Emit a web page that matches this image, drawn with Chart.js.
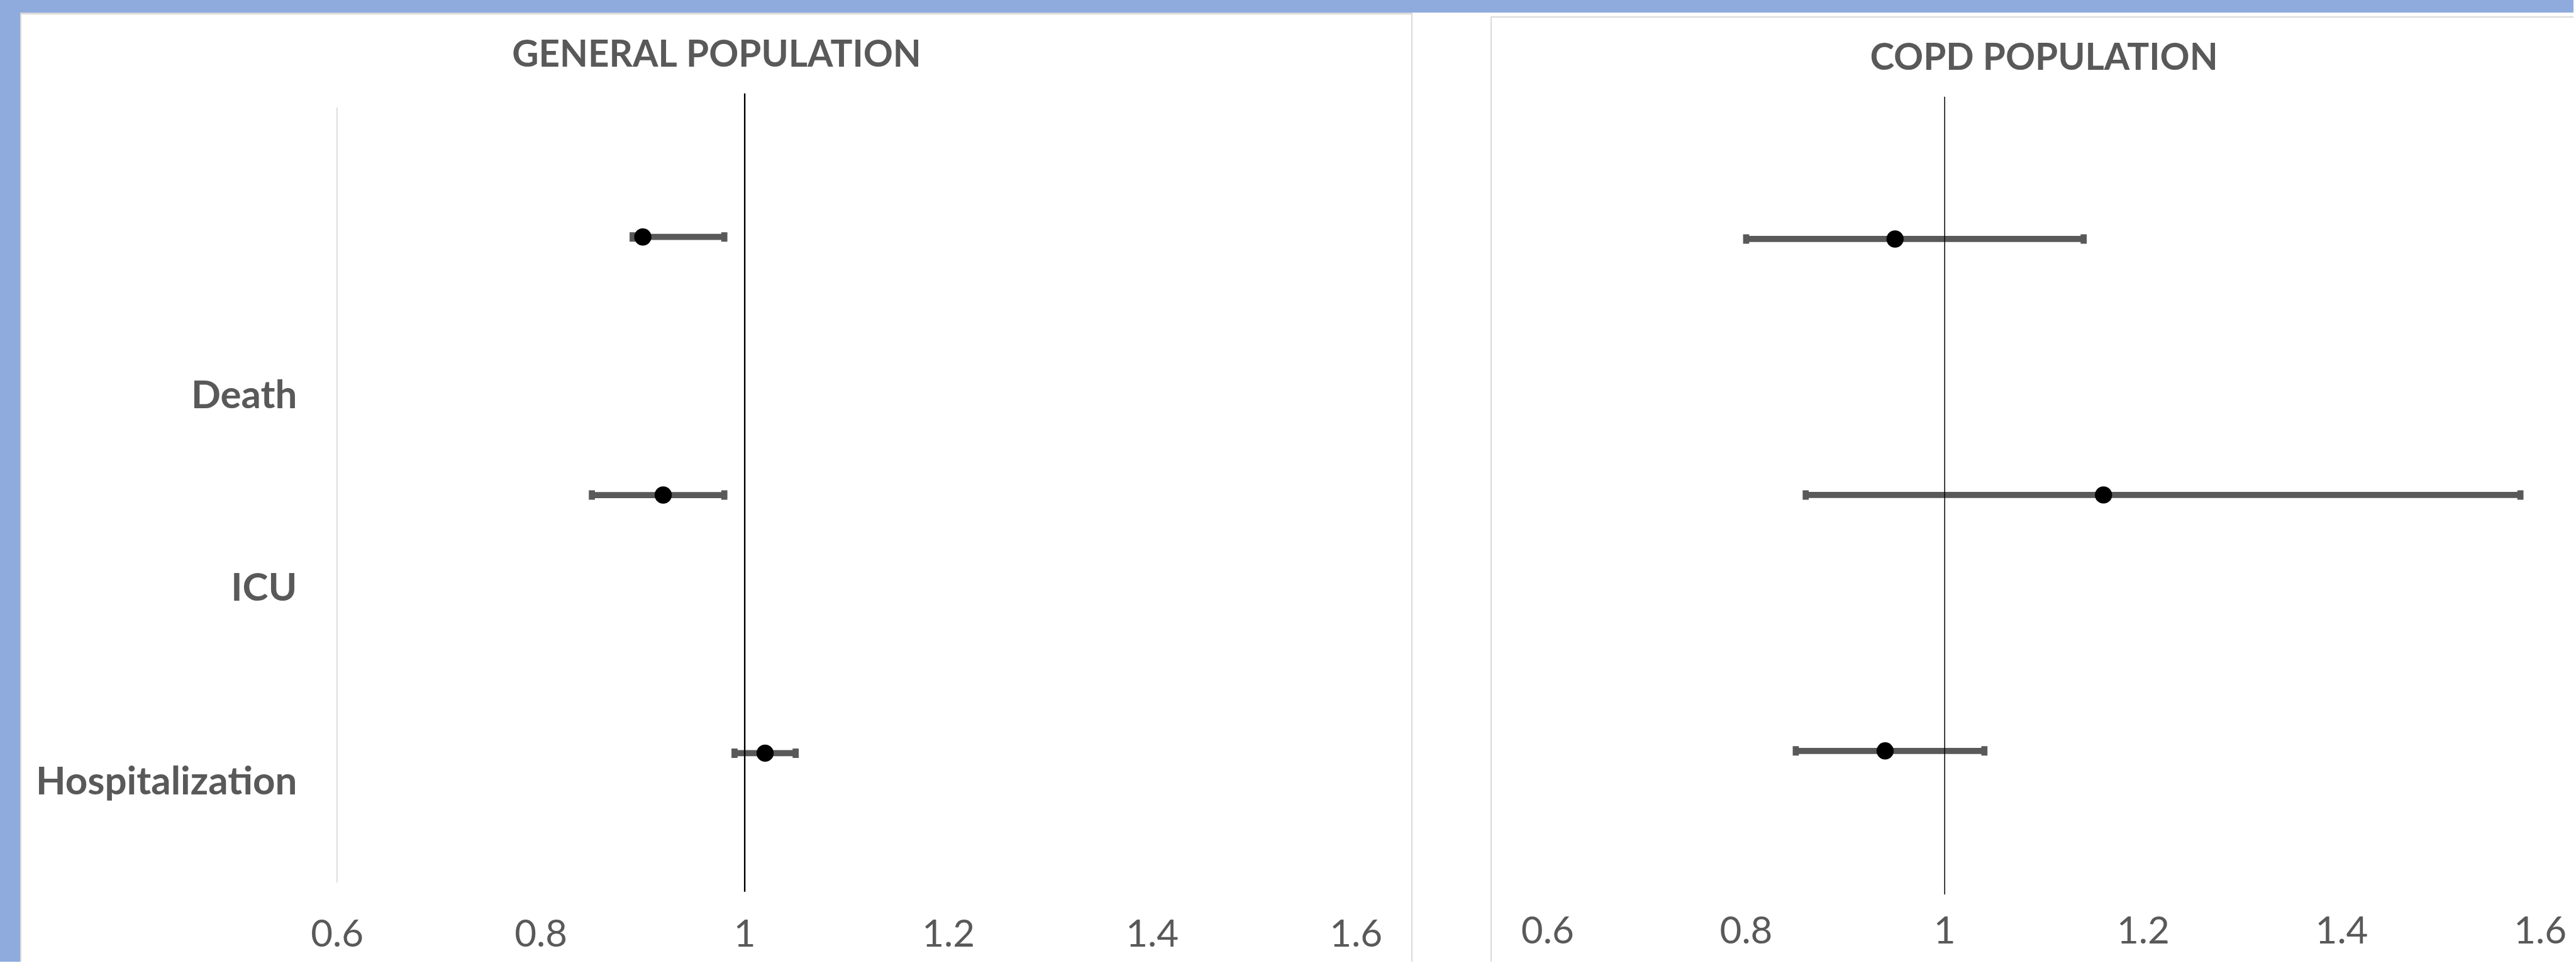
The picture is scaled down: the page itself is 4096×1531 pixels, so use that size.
<!DOCTYPE html>
<html>
<head>
<meta charset="utf-8">
<title>Odds ratios — general and COPD population</title>
<script src="https://cdn.jsdelivr.net/npm/chart.js@4.4.1/dist/chart.umd.min.js"></script>
<style>
  html, body { margin: 0; padding: 0; background: #ffffff; overflow: hidden; width: 4096px; height: 1531px; }
  .abs { position: absolute; }
  canvas { position: absolute; display: block; }
</style>
</head>
<body>
<div id="page"></div>
<script>
// ---- data ----
const categories   = ['Death', 'ICU', 'Hospitalization'];
const generalOR    = [0.90, 0.92, 1.02];
const generalLow   = [0.89, 0.85, 0.99];
const generalHigh  = [0.98, 0.98, 1.05];
const copdOR       = [0.95, 1.16, 0.94];
const copdLow      = [0.80, 0.86, 0.85];
const copdHigh     = [1.14, 1.58, 1.04];
const xTicks       = [0.6, 0.8, 1, 1.2, 1.4, 1.6];
const xTickLabels  = ['0.6', '0.8', '1', '1.2', '1.4', '1.6'];
const panelTitles  = ['GENERAL POPULATION', 'COPD POPULATION'];
const rowY         = [2.5, 1.5, 0.5];          // value of each row on the y scale
const categoryTickY = [1.885, 1.139, 0.388];   // where the row names sit on the y scale
const refLineX     = 1;                        // line of no effect
const generalRefSpan = [-0.037, 3.056];
const copdRefSpan    = [-0.061, 3.056];

// ---- page geometry (designed at 4629 x 1730, drawn at 0.884) ----
const S = 0.884;
const px = v => v * S;
const page = document.getElementById('page');

function box(x, y, w, h, color) {
  const d = document.createElement('div');
  d.className = 'abs';
  Object.assign(d.style, {
    left: px(x) + 'px', top: px(y) + 'px', width: px(w) + 'px', height: px(h) + 'px', background: color
  });
  page.appendChild(d);
}

const BLUE = '#8FABDD';
const EDGE = '#D9D9D9';
box(0, 0, 4629, 23, BLUE);          // top band
box(0, 0, 36, 1730, BLUE);          // left band
box(36, 23, 2505, 3, EDGE);         // left sheet top edge
box(36, 23, 2, 1707, EDGE);         // left sheet left edge
box(2539, 23, 2, 1707, EDGE);       // left sheet right edge
box(2681, 29, 1948, 3, EDGE);       // right sheet top edge
box(2681, 29, 2, 1701, EDGE);       // right sheet left edge

function makeCanvas(x, y, w, h) {
  const c = document.createElement('canvas');
  const W = Math.round(px(w)), H = Math.round(px(h));
  c.width = W; c.height = H;
  c.style.width = W + 'px'; c.style.height = H + 'px';
  c.style.left = Math.round(px(x)) + 'px';
  c.style.top = Math.round(px(y)) + 'px';
  page.appendChild(c);
  return c;
}

const TEXT = '#595959';
const WHISKER = '#595959';

function buildPanel(canvas, opt) {
  const datasets = [];
  // point estimates
  datasets.push({
    type: 'scatter',
    data: opt.or.map((v, i) => ({ x: v, y: rowY[i] })),
    pointStyle: 'circle',
    pointRadius: px(15.5),
    pointBackgroundColor: '#000000',
    pointBorderWidth: 0,
    order: 0
  });
  // line at OR = 1
  datasets.push({
    type: 'line',
    data: opt.refSpan.map(y => ({ x: refLineX, y })),
    borderColor: '#000000',
    borderWidth: px(opt.refWidth),
    pointRadius: 0,
    clip: false,
    order: 1
  });
  // whisker caps
  datasets.push({
    type: 'scatter',
    data: opt.low.map((v, i) => ({ x: v, y: rowY[i] }))
      .concat(opt.high.map((v, i) => ({ x: v, y: rowY[i] }))),
    pointStyle: 'line',
    pointRotation: 90,
    pointRadius: px(8.5),
    pointBorderColor: WHISKER,
    pointBorderWidth: px(11),
    order: 2
  });
  // confidence intervals
  categories.forEach((c, i) => {
    datasets.push({
      type: 'line',
      label: c,
      data: [{ x: opt.low[i], y: rowY[i] }, { x: opt.high[i], y: rowY[i] }],
      borderColor: WHISKER,
      borderWidth: px(11),
      borderCapStyle: 'butt',
      pointRadius: 0,
      order: 3
    });
  });

  return new Chart(canvas, {
    type: 'scatter',
    data: { datasets },
    options: {
      responsive: false,
      animation: false,
      devicePixelRatio: 1,
      events: [],
      layout: { padding: 0 },
      plugins: {
        legend: { display: false },
        tooltip: { enabled: false },
        title: {
          display: true,
          text: opt.title,
          color: TEXT,
          font: { family: 'Lato', weight: 'bold', size: px(66), lineHeight: 1.2 },
          padding: { top: px(opt.titleTop), bottom: px(opt.titleBottom) }
        }
      },
      scales: {
        x: {
          type: 'linear',
          min: 0.6,
          max: 1.6,
          afterBuildTicks: s => { s.ticks = xTicks.map(v => ({ value: v })); },
          afterFit: s => { s.height = px(opt.xAxisH); },
          ticks: {
            autoSkip: false,
            maxRotation: 0,
            padding: px(53),
            color: TEXT,
            font: { family: 'Lato', size: px(68), lineHeight: 1.2 },
            callback: (v, i) => xTickLabels[i]
          },
          grid: { display: false, drawTicks: false },
          border: { display: false }
        },
        y: {
          type: 'linear',
          min: 0,
          max: 3,
          afterBuildTicks: s => { s.ticks = categoryTickY.map(v => ({ value: v })); },
          afterFit: s => { s.width = px(opt.yAxisW); },
          ticks: {
            display: opt.showCategories,
            autoSkip: false,
            padding: px(72),
            color: TEXT,
            font: { family: 'Lato', weight: 'bold', size: px(70), lineHeight: 1.2 },
            callback: (v, i) => categories[i]
          },
          grid: { display: false, drawTicks: false },
          border: { display: opt.showCategories, color: EDGE, width: px(2) }
        },
        // empty margin on the right, so the title stays centred on the sheet
        yRightMargin: {
          type: 'linear',
          position: 'right',
          display: true,
          min: 0,
          max: 3,
          afterFit: s => { s.width = px(opt.rightPad); },
          ticks: { display: false },
          grid: { display: false, drawTicks: false },
          border: { display: false }
        }
      }
    }
  });
}

async function draw() {
  try {
    await Promise.all([
      document.fonts.load('bold 40px Lato'),
      document.fonts.load('40px Lato')
    ]);
  } catch (e) { /* fall back to whatever is available */ }

  Chart.defaults.font.family = 'Lato';

  const c1 = makeCanvas(38, 26, 2501, 1704);
  buildPanel(c1, {
    title: panelTitles[0],
    or: generalOR, low: generalLow, high: generalHigh,
    refSpan: generalRefSpan, refWidth: 2.7,
    showCategories: true,
    yAxisW: 568, xAxisH: 143, rightPad: 89,
    titleTop: 33.4, titleBottom: 55.4
  });

  const c2 = makeCanvas(2683, 32, 1986, 1698);
  buildPanel(c2, {
    title: panelTitles[1],
    or: copdOR, low: copdLow, high: copdHigh,
    refSpan: copdRefSpan, refWidth: 1.7,
    showCategories: false,
    yAxisW: 89, xAxisH: 149, rightPad: 82,
    titleTop: 33.1, titleBottom: 55.7
  });
}
draw();
</script>
</body>
</html>
